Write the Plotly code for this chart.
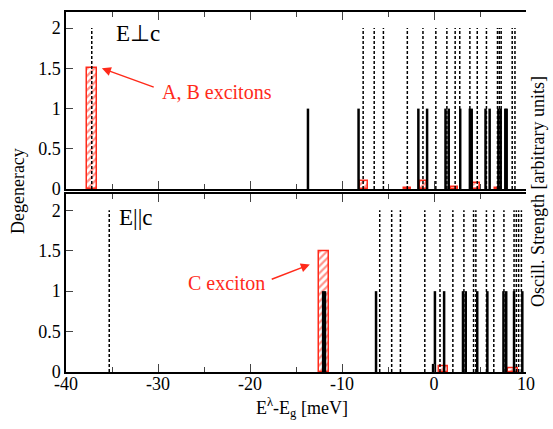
import plotly.graph_objects as go

# ---- E perpendicular to c (upper panel) ----
perp_dark_x = [-37.2, -7.7, -6.5, -5.5, -2.9, -1.2, 0.2, 1.4, 2.3, 2.8, 3.9,
               4.7, 5.7, 6.9, 7.1, 7.3, 8.5, 8.8]
perp_dark_deg = [2] * len(perp_dark_x)
perp_bright_x = [-13.7, -8.2, -1.7, -0.75, 1.25, 1.6, 2.85, 3.9, 4.1, 5.6,
                 6.05, 7.0, 7.25, 7.75, 7.9]
perp_bright_deg = [1] * len(perp_bright_x)
perp_osc_x = [-37.15, -7.65, -2.9, -1.15, 2.25, 4.65, 7.0]
perp_osc_w = [1.1, 0.85, 0.8, 0.7, 0.75, 0.8, 0.75]
perp_osc = [1.5, 0.1, 0.02, 0.1, 0.03, 0.08, 0.02]

# ---- E parallel to c (lower panel) ----
par_dark_x = [-35.3, -5.9, -4.6, -3.65, -1.0, 0.65, 2.05, 3.25, 4.3, 4.55,
              5.7, 6.5, 7.6, 8.7, 8.95, 9.2, 9.5]
par_dark_deg = [2] * len(par_dark_x)
par_bright_x = [-12.05, -11.85, -6.3, -0.1, 0.1, 1.1, 3.15, 3.45, 4.7, 5.8,
                7.55, 7.85, 8.7, 9.6]
par_bright_deg = [1, 1, 1, 0.1, 1, 1, 1, 1, 1, 1, 1, 1, 1, 1]
par_osc_x = [-11.95, 1.07, 8.6]
par_osc_w = [1.1, 0.95, 1.1]
par_osc = [1.5, 0.07, 0.05]

x_range = [-40, 10]
y_range = [0, 2.2]
x_ticks = [-40, -30, -20, -10, 0, 10]
x_tick_text = ["-40", "-30", "-20", "-10", "0", "10"]
y_ticks = [0, 0.5, 1, 1.5, 2]
y_tick_text = ["0", "0.5", "1", "1.5", "2"]

SERIF = "Liberation Serif, Times New Roman, Times, serif"
RED = "#ff2a1a"


def sticks(xs, hs):
    """Vertical sticks from 0 up to each height, joined with None gaps."""
    px, py = [], []
    for x, h in zip(xs, hs):
        px += [x, x, None]
        py += [0, h, None]
    return px, py


fig = go.Figure()

panels = [
    (perp_dark_x, perp_dark_deg, perp_bright_x, perp_bright_deg,
     perp_osc_x, perp_osc_w, perp_osc, "x", "y"),
    (par_dark_x, par_dark_deg, par_bright_x, par_bright_deg,
     par_osc_x, par_osc_w, par_osc, "x2", "y2"),
]

for dx, dh, bx, bh, ox, ow, oh, xa, ya in panels:
    sx, sy = sticks(dx, dh)
    fig.add_trace(go.Scatter(x=sx, y=sy, mode="lines", xaxis=xa, yaxis=ya,
                             line=dict(color="black", width=1.5, dash="3px,2px"),
                             hoverinfo="skip"))
    fig.add_trace(go.Bar(x=ox, y=oh, width=ow, xaxis=xa, yaxis=ya,
                         marker=dict(color="white",
                                     line=dict(color=RED, width=1.5),
                                     pattern=dict(shape="/", fgcolor=RED,
                                                  bgcolor="white", size=5,
                                                  solidity=0.45))))
    sx, sy = sticks(bx, bh)
    fig.add_trace(go.Scatter(x=sx, y=sy, mode="lines", xaxis=xa, yaxis=ya,
                             line=dict(color="black", width=2.5),
                             hoverinfo="skip"))

common_x = dict(range=x_range, showline=True, linecolor="black", linewidth=1.5,
                mirror="allticks", ticks="inside", ticklen=8, tickwidth=1.2,
                tickvals=x_ticks, ticktext=x_tick_text, showgrid=False,
                zeroline=False, ticklabelstandoff=-5,
                minor=dict(dtick=5, ticks="inside", ticklen=5, tickwidth=1.2,
                           showgrid=False),
                tickfont=dict(family=SERIF, size=18, color="black"))
common_y = dict(range=y_range, showline=True, linecolor="black", linewidth=1.5,
                ticks="inside", ticklen=7, tickwidth=1.2, tickvals=y_ticks,
                ticktext=y_tick_text, showgrid=False, zeroline=False,
                tickfont=dict(family=SERIF, size=18, color="black"))
right_y = dict(range=y_range, side="right", showline=True, linecolor="black",
               linewidth=1.5, ticks="inside", ticklen=6, tickwidth=1.2,
               dtick=0.25, showticklabels=False, showgrid=False,
               zeroline=False)

fig.update_layout(
    width=553, height=429,
    margin=dict(l=66, r=27, t=10, b=57),
    paper_bgcolor="white", plot_bgcolor="white",
    showlegend=False, bargap=0,
    font=dict(family=SERIF, color="black"),
    xaxis=dict(common_x, domain=[0, 1], anchor="y", showticklabels=False),
    yaxis=dict(common_y, domain=[0.508, 1], anchor="x"),
    yaxis3=dict(right_y, overlaying="y", anchor="x"),
    xaxis2=dict(common_x, domain=[0, 1], anchor="y2", matches="x"),
    yaxis2=dict(common_y, domain=[0, 0.494], anchor="x2"),
    yaxis4=dict(right_y, overlaying="y2", anchor="x2"),
)

ann = []
# panel labels
ann.append(dict(x=-34.8, y=1.93, xref="x", yref="y", text="E\u22a5c",
                showarrow=False, xanchor="left",
                font=dict(family=SERIF, size=23, color="black")))
ann.append(dict(x=-34.5, y=1.91, xref="x2", yref="y2", text="E||c",
                showarrow=False, xanchor="left",
                font=dict(family=SERIF, size=23, color="black")))
# exciton labels with arrows
ann.append(dict(x=-29.8, y=1.21, xref="x", yref="y", text="A, B excitons",
                showarrow=False, xanchor="left",
                font=dict(family=SERIF, size=20, color=RED)))
ann.append(dict(x=-36.1, y=1.5, ax=-30.3, ay=1.26, xref="x", yref="y",
                axref="x", ayref="y", text="", showarrow=True,
                arrowhead=2, arrowsize=1.2, arrowwidth=1.5, arrowcolor=RED))
ann.append(dict(x=-18.2, y=1.1, xref="x2", yref="y2", text="C exciton",
                showarrow=False, xanchor="right",
                font=dict(family=SERIF, size=20, color=RED)))
ann.append(dict(x=-13.5, y=1.33, ax=-17.8, ay=1.14, xref="x2", yref="y2",
                axref="x2", ayref="y2", text="", showarrow=True,
                arrowhead=2, arrowsize=1.2, arrowwidth=1.5, arrowcolor=RED))
# axis titles (paper coordinates span the plotting area)
ann.append(dict(x=-0.104, y=0.503, xref="paper", yref="paper",
                xanchor="center", yanchor="middle",
                text="Degeneracy", textangle=-90, showarrow=False,
                font=dict(family=SERIF, size=18, color="black")))
ann.append(dict(x=1.026, y=0.503, xref="paper", yref="paper",
                xanchor="center", yanchor="middle",
                text="Oscill. Strength [arbitrary units]", textangle=-90,
                showarrow=False,
                font=dict(family=SERIF, size=18, color="black")))
ann.append(dict(x=0.513, y=-0.098, xref="paper", yref="paper",
                xanchor="center", yanchor="middle",
                text="E<sup>\u03bb</sup>-E<sub>g</sub> [meV]", showarrow=False,
                font=dict(family=SERIF, size=18, color="black")))

for a in ann:
    fig.add_annotation(a)

fig.write_html("out.html")
